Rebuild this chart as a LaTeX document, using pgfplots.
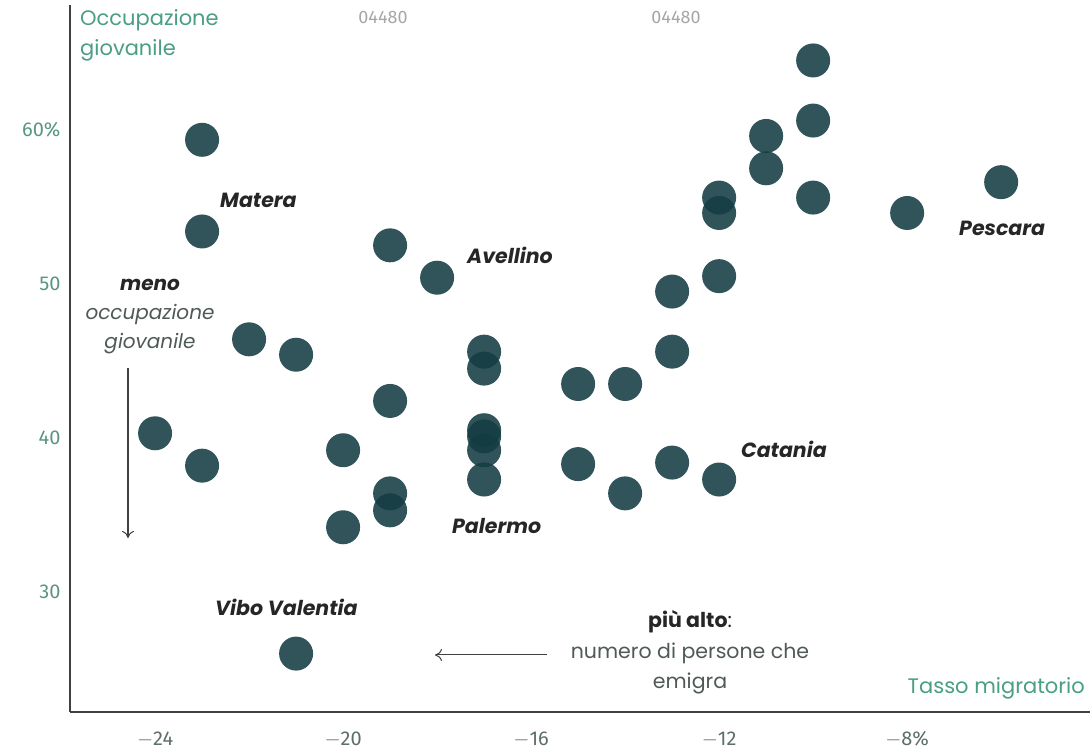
\documentclass[border=0pt]{standalone}
\usepackage{pgfplots}
\pgfplotsset{compat=1.18}
\usetikzlibrary{arrows.meta}
\usepackage{fontspec}
\setmainfont{Poppins}
\newfontfamily\tickfont{Fira Sans}
\definecolor{dot}{HTML}{133C42}
\definecolor{teal}{HTML}{4A9E86}
\definecolor{tickc}{HTML}{5E6E6A}
\definecolor{annot}{HTML}{4F5A58}
\begin{document}
\begin{tikzpicture}[x=1pt,y=1pt]
\useasboundingbox (-70,-43) rectangle (1020,712);
\begin{axis}[
  at={(0,0)}, anchor=south west,
  scale only axis, width=1020pt, height=707pt,
  xmin=-25.81, xmax=-4.11, ymin=22.21, ymax=68.1,
  axis x line=bottom, axis y line=left,
  axis line style={-, draw=black!75, line width=1.3pt},
  major tick length=0pt,
  xtick={-24,-20,-16,-12,-8},
  xticklabels={$-$24,$-$20,$-$16,$-$12,$-$8\%},
  ytick={30,40,50,60},
  yticklabels={30,40,50,60\%},
  /pgf/number format/assume math mode=true,
  x tick label style={font=\tickfont\fontsize{20}{20}\selectfont, text=tickc, yshift=-16pt},
  y tick label style={font=\tickfont\fontsize{20}{20}\selectfont, text=teal!70!gray, xshift=-6pt},
  clip=false,
]
\addplot[only marks, mark=*, mark size=17pt, color=dot,
  mark options={draw opacity=0, fill=dot, fill opacity=0.88}] coordinates {
(-23,59.35) (-23,53.4) (-24,40.3) (-23,38.2) (-22,46.4) (-21,45.4) (-21,26)
(-20,39.2) (-20,34.2) (-19,52.5) (-19,42.4) (-19,36.4) (-19,35.3) (-18,50.4)
(-17,45.6) (-17,44.5) (-17,40.5) (-17,40.1) (-17,39.2) (-17,37.3)
(-15,43.5) (-15,38.3) (-14,43.5) (-14,36.4)
(-13,49.5) (-13,45.6) (-13,38.4)
(-12,55.6) (-12,54.6) (-12,50.5) (-12,37.3)
(-11,59.6) (-11,57.5)
(-10,64.5) (-10,60.6) (-10,55.6)
(-8,54.6) (-6,56.6)
};
\end{axis}
% annotations: pixel (px,py) -> (px-70, 712-py)
\begin{scope}[every node/.style={inner sep=0pt}]
\node[anchor=west, text=teal, font=\fontsize{21}{30}\selectfont, align=left] at (10,677) {Occupazione\\giovanile};
\node[text=gray!70, font=\tickfont\fontsize{18}{20}\selectfont] at (313,694) {04480};
\node[text=gray!70, font=\tickfont\fontsize{18}{20}\selectfont] at (606,694) {04480};
\node[anchor=west, font=\fontsize{20.5}{22}\selectfont\bfseries\itshape, text=black!85] at (150,512) {Matera};
\node[anchor=west, font=\fontsize{20.5}{22}\selectfont\bfseries\itshape, text=black!85] at (397,457) {Avellino};
\node[anchor=west, font=\fontsize{20.5}{22}\selectfont\bfseries\itshape, text=black!85] at (889,484) {Pescara};
\node[anchor=west, font=\fontsize{20.5}{22}\selectfont\bfseries\itshape, text=black!85] at (671,263) {Catania};
\node[anchor=west, font=\fontsize{20.5}{22}\selectfont\bfseries\itshape, text=black!85] at (382,186) {Palermo};
\node[anchor=west, font=\fontsize{20.5}{22}\selectfont\bfseries\itshape, text=black!85] at (145,105) {Vibo Valentia};
\node[font=\fontsize{20}{22}\selectfont\bfseries\itshape, text=black!85] at (80,427) {meno};
\node[font=\fontsize{20}{22}\selectfont\itshape, text=annot] at (80,398) {occupazione};
\node[font=\fontsize{20}{22}\selectfont\itshape, text=annot] at (80,368) {giovanile};
\draw[-{To[length=7pt,width=12pt]}, black!75, line width=1pt] (58,344) -- (58,174);
\node[font=\fontsize{20.5}{22}\selectfont\bfseries, text=black!85] at (620,90) {più alto\textmd{:}};
\node[font=\fontsize{20.5}{22}\selectfont, text=annot] at (620,59) {numero di persone che};
\node[font=\fontsize{20.5}{22}\selectfont, text=annot] at (620,29) {emigra};
\draw[-{To[length=7pt,width=12pt]}, black!75, line width=1pt] (477,57) -- (365,57);
\node[anchor=east, text=teal, font=\fontsize{21}{22}\selectfont] at (1015,24) {Tasso migratorio};
\end{scope}
\end{tikzpicture}
\end{document}
